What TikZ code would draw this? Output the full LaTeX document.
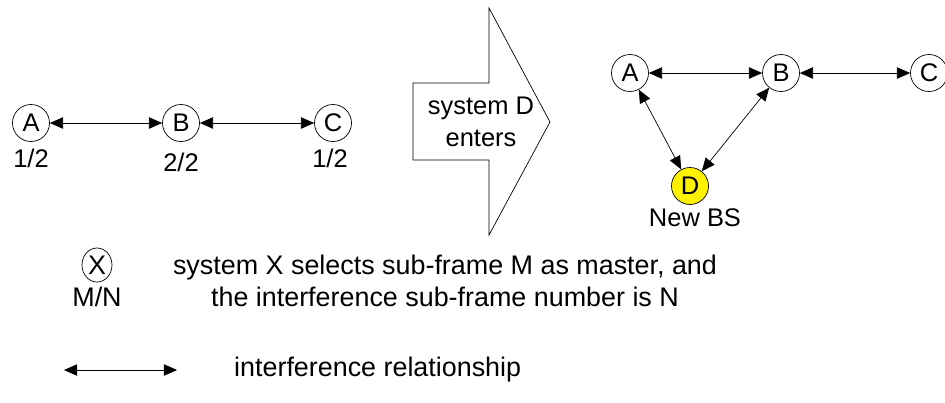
\documentclass[tikz,border=0pt]{standalone}
\usepackage{fontspec}
\setmainfont{Liberation Sans}
\usetikzlibrary{shapes.geometric, arrows.meta, positioning}

\begin{document}
\begin{tikzpicture}[
        font=\fontsize{14.5}{18}\selectfont,
        sys/.style={draw, circle, thin, minimum size=0.74cm, inner sep=0pt},
        newsys/.style={sys, fill=yellow},
        lbl/.style={inner sep=1pt},
        legend/.style={font=\fontsize{15.3}{18.5}\selectfont},
        arr/.style={{Triangle[length=7.5pt,width=6.5pt]}-{Triangle[length=7.5pt,width=6.5pt]}, thin}
      ]
        \useasboundingbox (0,0) rectangle (18.9,-8.04);

        % before
        \node[sys] (a1) at (0.62,-2.46) {A};
        \node[sys] (b1) at (3.62,-2.46) {B};
        \node[sys] (c1) at (6.66,-2.46) {C};
        \draw[arr] (a1) -- (b1);
        \draw[arr] (b1) -- (c1);
        \node[lbl, below=3pt of a1] (na1) {1/2};
        \node[lbl, below=5pt of b1] (nb1) {2/2};
        \node[lbl, below=3pt of c1, xshift=-0.06cm] (nc1) {1/2};

        % big arrow
        \draw[thin] (8.26,-1.66) -- (9.78,-1.66) -- (9.78,-0.16) -- (11.0,-2.44)
          -- (9.78,-4.7) -- (9.78,-3.2) -- (8.26,-3.2) -- cycle;
        \node[align=center] (enter) at (9.62,-2.44) {system D\\enters};

        % after
        \node[sys] (a2) at (12.6,-1.46) {A};
        \node[sys] (b2) at (15.62,-1.46) {B};
        \node[sys] (c2) at (18.58,-1.46) {C};
        \node[newsys] (d2) at (13.8,-3.72) {D};
        \draw[arr] (a2) -- (b2);
        \draw[arr] (b2) -- (c2);
        \draw[arr] (a2) -- (d2);
        \draw[arr] (b2) -- (d2);
        \node[lbl, below=1pt of d2, xshift=0.1cm] (nd2) {New BS};

        % legend
        \node[sys, legend, ellipse, minimum width=0.6cm, minimum height=0.68cm] (x) at (1.94,-5.3) {X};
        \node[lbl, legend] (mn) at (1.94,-5.94) {M/N};
        \node[legend, align=center] (xtext) at (8.9,-5.62)
          {system X selects sub-frame M as master, and\\the interference sub-frame number is N};
        \coordinate (l1) at (1.28,-7.4);
        \coordinate (l2) at (3.54,-7.4);
        \draw[arr] (l1) -- (l2);
        \node[legend, anchor=west] (ltext) at (4.56,-7.4) {interference relationship};
      \end{tikzpicture}
\end{document}
